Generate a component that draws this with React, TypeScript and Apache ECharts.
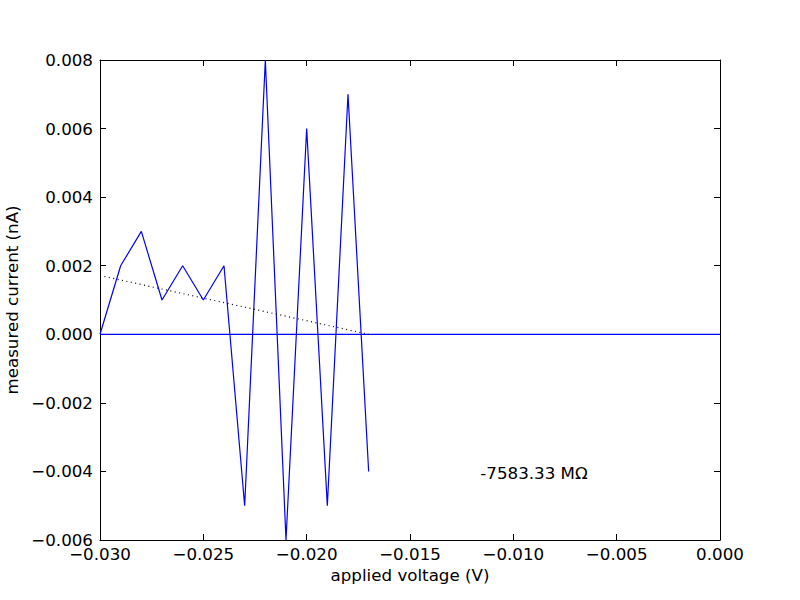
import React, { useEffect, useRef } from "react";
import * as echarts from "echarts";

const voltages = [-0.03, -0.029, -0.028, -0.027, -0.026, -0.025, -0.024, -0.023, -0.022, -0.021, -0.02, -0.019, -0.018, -0.017];
const currents = [0.0, 0.002, 0.003, 0.001, 0.002, 0.001, 0.002, -0.005, 0.008, -0.006, 0.006, -0.005, 0.007, -0.004];
const xTicks = { min: -0.03, max: 0.0, interval: 0.005 };
const yTicks = { min: -0.006, max: 0.008, interval: 0.002 };
const annotationPos = [-0.0116, -0.0043];

function linearFit(xs: number[], ys: number[]) {
  const n = xs.length;
  const mx = xs.reduce((a, b) => a + b, 0) / n;
  const my = ys.reduce((a, b) => a + b, 0) / n;
  let sxy = 0, sxx = 0;
  for (let i = 0; i < n; i++) {
    sxy += (xs[i] - mx) * (ys[i] - my);
    sxx += (xs[i] - mx) * (xs[i] - mx);
  }
  const slope = sxy / sxx;
  return { slope, intercept: my - slope * mx };
}

const FONT = "DejaVu Sans";
const FS = 16.7;
const fmt = (v: number) => v.toFixed(3).replace("-", "\u2212");

export default function App() {
  const ref = useRef<HTMLDivElement>(null);
  useEffect(() => {
    if (!ref.current) return;
    const chart = echarts.init(ref.current, undefined, { renderer: "svg" });
    const fit = linearFit(voltages, currents);
    const x0 = voltages[0];
    const x1 = voltages[voltages.length - 1];
    const fitLine = [
      [x0, fit.slope * x0 + fit.intercept],
      [x1, fit.slope * x1 + fit.intercept],
    ];
    // slope in nA/V -> resistance in Ω, shown in MΩ
    const mOhm = 1 / (fit.slope * 1e-9) / 1e6;
    const annotation = `${mOhm.toFixed(2)} M\u03A9`;

    const axisCommon = {
      axisLine: { show: true, onZero: false, lineStyle: { color: "#000", width: 1 } },
      axisTick: { show: true, inside: true, length: 6, lineStyle: { color: "#000", width: 1 } },
      splitLine: { show: false },
    };

    chart.setOption({
      animation: false,
      backgroundColor: "#fff",
      textStyle: { fontFamily: FONT },
      grid: { left: 100, right: 80, top: 60, bottom: 60, show: false, containLabel: false, outerBoundsMode: "none" },
      xAxis: [
        {
          type: "value",
          position: "bottom",
          ...xTicks,
          ...axisCommon,
          name: "applied voltage (V)",
          nameLocation: "middle",
          nameGap: 18,
          nameTextStyle: { fontFamily: FONT, fontSize: FS, color: "#000" },
          axisLabel: { fontFamily: FONT, fontSize: FS, color: "#000", margin: 5, formatter: fmt },
        },
        {
          type: "value",
          position: "top",
          ...xTicks,
          ...axisCommon,
          axisLabel: { show: false },
        },
      ],
      yAxis: [
        {
          type: "value",
          position: "left",
          ...yTicks,
          ...axisCommon,
          name: "measured current (nA)",
          nameLocation: "middle",
          nameGap: 65,
          nameTextStyle: { fontFamily: FONT, fontSize: FS, color: "#000" },
          axisLabel: { fontFamily: FONT, fontSize: FS, color: "#000", margin: 7, formatter: fmt },
        },
        {
          type: "value",
          position: "right",
          ...yTicks,
          ...axisCommon,
          axisLabel: { show: false },
        },
      ],
      series: [
        {
          type: "line",
          data: voltages.map((v, i) => [v, currents[i]]),
          symbol: "none",
          lineStyle: { color: "#0000ff", width: 1.2 },
          clip: false,
          z: 3,
        },
        {
          type: "line",
          data: [[xTicks.min, 0], [xTicks.max, 0]],
          symbol: "none",
          lineStyle: { color: "#0000ff", width: 1.2 },
          z: 2,
        },
        {
          type: "line",
          data: fitLine,
          symbol: "none",
          lineStyle: { color: "#000", width: 1.2, type: [1, 3.5] },
          z: 4,
        },
        {
          type: "scatter",
          data: [annotationPos],
          symbolSize: 0,
          silent: true,
          itemStyle: { opacity: 1 },
          label: {
            show: true,
            position: [0, 0],
            align: "left",
            verticalAlign: "bottom",
            formatter: () => annotation,
            fontFamily: FONT,
            fontSize: FS,
            color: "#000",
            opacity: 1,
          },
        },
      ],
    });
    return () => chart.dispose();
  }, []);
  return (
    <div
      ref={ref}
      style={{ position: "fixed", left: 0, top: 0, width: 800, height: 600, background: "#fff" }}
    />
  );
}
